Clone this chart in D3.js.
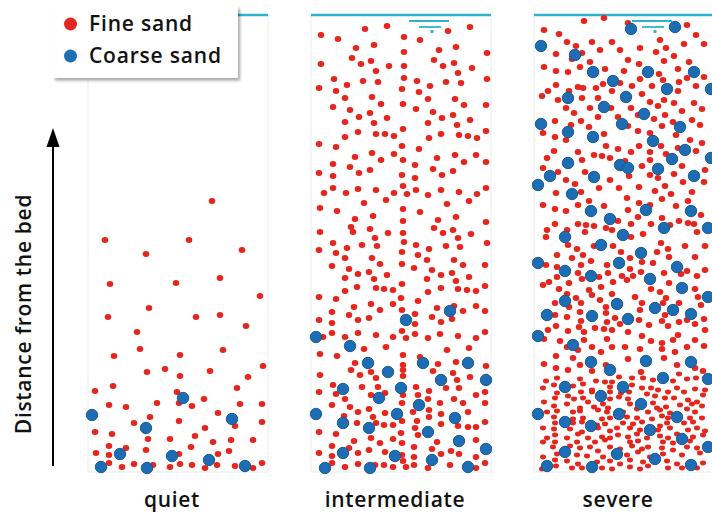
<!DOCTYPE html>
<html><head><meta charset="utf-8">
<script src="https://cdn.jsdelivr.net/npm/d3@7"></script>
<style>body{margin:0;background:#fff}svg{display:block}</style>
</head><body><svg id="c" width="712" height="514"></svg>
<script>
// ---- data: [lateral position in column, height above bed] ----
const categories = ["quiet", "intermediate", "severe"];
const legendLabels = ["Fine sand", "Coarse sand"];
const axisLabel = "Distance from the bed";

const quietFine = [[124,271],[17,232],[101,232],[154,222],[58,218],[22,188],[88,189],[132,194],[172,176],[61,164],[20,155],[108,155],[132,157],[158,146],[49,140],[52,123],[26,116],[92,117],[135,122],[175,106],[59,100],[77,103],[92,96],[122,101],[160,95],[7,81],[25,86],[89,80],[149,84],[21,67],[38,65],[69,69],[91,69],[104,66],[116,73],[152,68],[174,68],[62,55],[130,59],[46,49],[91,51],[117,44],[147,46],[174,50],[7,40],[24,38],[60,33],[82,33],[107,36],[125,30],[143,32],[165,32],[21,26],[38,24],[58,22],[103,25],[141,21],[8,19],[21,17],[91,18],[130,18],[21,9],[46,8],[65,7],[92,8],[104,7],[34,5],[82,5],[117,4],[129,7],[147,6],[165,4],[174,9]];
const quietCoarse = [[95,74],[4,57],[144,53],[58,44],[32,18],[84,16],[121,12],[13,5],[59,4],[157,6]];

const intermediateFine = [[76,446],[54,443],[159,445],[137,441],[10,437],[27,433],[93,435],[109,432],[63,427],[45,424],[145,425],[128,422],[93,420],[176,419],[41,414],[60,411],[123,412],[143,409],[10,408],[50,408],[78,406],[93,406],[132,406],[161,404],[65,401],[147,399],[23,393],[93,394],[176,393],[52,391],[67,390],[106,391],[135,390],[150,389],[36,387],[119,386],[8,384],[25,381],[91,383],[108,380],[34,374],[61,375],[117,373],[144,373],[70,368],[92,368],[22,365],[153,367],[175,367],[105,363],[39,362],[59,359],[122,360],[48,355],[76,354],[131,354],[142,357],[159,352],[34,350],[63,349],[117,349],[146,347],[92,343],[175,341],[47,340],[65,338],[74,338],[83,336],[130,338],[34,335],[148,337],[157,336],[166,334],[118,334],[8,328],[25,325],[91,326],[108,323],[61,319],[83,318],[44,315],[126,314],[144,317],[165,317],[70,312],[92,312],[153,310],[175,310],[22,308],[39,305],[104,307],[122,303],[59,302],[142,301],[48,299],[8,299],[22,296],[91,297],[131,297],[104,294],[22,284],[47,283],[92,286],[13,279],[35,279],[65,282],[83,279],[96,278],[105,282],[130,282],[148,280],[117,277],[166,278],[175,284],[75,272],[53,269],[136,268],[158,271],[9,264],[26,261],[92,263],[109,260],[62,256],[44,253],[127,252],[145,255],[92,251],[175,250],[40,245],[123,244],[59,243],[142,242],[9,240],[42,240],[77,239],[92,239],[132,239],[160,238],[64,234],[147,234],[22,229],[93,230],[176,229],[51,227],
[66,226],[105,227],[135,226],[149,225],[36,224],[8,222],[118,223],[25,219],[91,220],[107,217],[34,214],[61,214],[116,212],[143,212],[69,208],[91,208],[21,206],[152,207],[174,207],[103,204],[38,203],[121,202],[58,200],[47,198],[76,197],[130,197],[141,199],[158,195],[34,194],[63,193],[116,193],[145,191],[91,188],[174,186],[46,185],[65,184],[73,183],[82,182],[130,184],[34,181],[147,183],[156,182],[165,181],[117,180],[8,175],[25,173],[90,174],[107,171],[60,168],[82,168],[43,165],[126,164],[143,166],[165,166],[69,162],[91,162],[21,160],[152,161],[174,161],[38,157],[104,158],[58,154],[121,155],[8,152],[47,152],[141,153],[21,149],[104,148],[130,150],[91,141],[174,140],[21,139],[47,139],[65,137],[82,135],[104,138],[129,138],[147,136],[12,135],[34,135],[95,134],[117,134],[165,134],[75,125],[53,123],[136,122],[158,124],[9,118],[26,116],[92,117],[109,115],[44,109],[92,107],[127,108],[145,110],[175,106],[40,102],[60,100],[92,102],[122,101],[9,97],[49,97],[92,96],[142,99],[159,95],[65,94],[146,92],[22,87],[51,85],[67,85],[105,85],[118,81],[135,84],[148,84],[8,80],[25,78],[60,77],[74,79],[92,77],[107,77],[174,80],[165,77],[34,73],[117,73],[143,73],[152,69],[21,67],[39,65],[58,63],[91,69],[129,69],[174,69],[47,60],[74,59],[102,60],[118,62],[130,58],[157,60],[33,56],[62,55],[91,51],[106,51],[118,55],[174,50],[46,49],[65,49],[73,47],[82,47],[130,48],[147,46],[157,45],[165,45],[104,44],[8,40],[25,38],[90,39],[107,37],[60,34],[82,33],[43,31],[126,30],[69,29],[91,29],[165,32],[21,26],[103,25],[140,21],[38,24],[121,23],[58,22],[8,19],[47,19],[74,20],[130,18],[148,18],[21,16],[91,17],[103,15],[165,15],[174,9],[21,9],[34,5],[47,8],[64,7],[73,7],[82,5],[92,11],[103,7],[117,4],[139,7],[165,4],[95,5]];
const intermediateCoarse = [[139,161],[95,152],[5,135],[39,126],[57,109],[112,109],[157,109],[77,100],[130,92],[175,92],[32,83],[90,84],[68,74],[108,67],[5,58],[86,58],[144,54],[32,49],[58,44],[117,40],[148,31],[175,23],[32,19],[84,16],[121,12],[14,4],[59,4],[157,5]];

const severeFine = [[50,451],[70,454],[94,449],[153,447],[10,442],[25,438],[162,437],[126,432],[33,430],[58,430],[78,430],[150,428],[170,428],[42,426],[106,424],[132,424],[66,422],[86,422],[122,420],[22,418],[48,419],[38,413],[140,416],[94,412],[130,411],[56,410],[155,410],[105,408],[10,405],[46,405],[22,401],[34,400],[71,403],[90,401],[144,403],[125,398],[170,395],[106,393],[129,392],[145,390],[153,394],[98,386],[22,387],[44,385],[49,384],[62,384],[69,388],[86,389],[118,386],[162,386],[14,381],[8,376],[35,381],[78,381],[108,378],[144,381],[24,372],[48,374],[64,374],[116,370],[130,372],[160,369],[32,364],[56,364],[77,364],[97,364],[124,366],[140,369],[168,363],[40,359],[104,357],[131,357],[148,361],[64,355],[84,355],[21,351],[47,351],[120,353],[158,352],[139,350],[37,347],[55,345],[94,346],[128,346],[166,347],
[104,341],[116,339],[9,339],[70,338],[142,337],[21,335],[32,332],[156,332],[168,329],[72,326],[105,326],[127,326],[84,323],[144,324],[20,321],[44,320],[97,320],[116,320],[162,321],[60,317],[68,316],[132,318],[13,314],[76,314],[48,312],[116,312],[91,311],[9,304],[108,306],[148,306],[24,300],[51,300],[140,298],[171,302],[116,297],[95,296],[124,294],[32,292],[76,292],[149,290],[170,290],[41,288],[105,285],[131,286],[65,284],[85,284],[22,279],[47,280],[121,281],[137,278],[158,280],[93,274],[128,273],[55,271],[154,271],[105,269],[9,267],[44,267],[70,266],[116,267],[142,266],[21,263],[32,261],[94,262],[167,257],[104,255],[128,254],[84,251],[145,251],[154,249],[160,248],[21,248],[44,248],[52,247],[97,248],[117,248],[136,247],[60,246],[72,244],[78,242],[13,242],[33,242],[51,240],[109,238],[163,240],[12,235],[97,235],
[34,227],[43,223],[60,226],[79,226],[127,229],[134,223],[151,226],[171,226],[87,220],[23,217],[49,217],[123,220],[38,214],[96,214],[135,215],[161,215],[57,211],[108,210],[119,209],[47,207],[73,207],[12,207],[23,205],[96,203],[153,201],[171,202],[44,199],[74,199],[107,200],[130,199],[65,195],[88,196],[99,196],[147,198],[163,196],[23,195],[48,193],[15,190],[35,189],[79,190],[93,192],[9,187],[135,189],[25,183],[67,185],[55,182],[117,183],[161,183],[33,178],[78,178],[126,180],[58,177],[101,175],[42,174],[132,174],[164,175],[66,172],[21,169],[47,169],[108,169],[129,169],[145,169],[35,165],[72,165],[167,167],[106,162],[46,160],[72,159],[21,157],[33,155],[131,157],[170,153],[81,154],[105,152],[128,151],[73,150],[47,151],[145,150],[153,152],[161,148],[22,146],[45,145],[115,147],[134,146],[86,148],[61,144],[70,143],[78,142],[14,142],[34,141],[50,140],[94,140],[171,142],[108,136],[144,137],[10,133],[26,131],[50,132],[73,133],[117,131],[139,132],[161,132],[128,129],[33,125],[58,125],[78,125],[91,125],[153,125],[170,126],[106,123],[128,123],[67,120],[141,120],[44,122],
[22,116],[39,114],[94,113],[130,114],[10,108],[46,107],[72,107],[143,107],[22,104],[34,102],[107,100],[169,101],[161,104],[58,101],[145,98],
[12,91],[23,94],[46,93],[62,91],[71,90],[78,90],[85,95],[98,94],[109,94],[119,92],[139,91],[153,93],[162,94],
[9,84],[20,87],[39,86],[49,88],[58,82],[76,85],[98,87],[108,84],[117,84],[124,82],[143,84],[161,83],[171,82],
[23,79],[47,80],[58,80],[76,80],[87,79],[95,80],[113,78],[134,80],[150,80],
[10,70],[21,74],[34,76],[40,73],[49,74],[54,70],[76,73],[85,75],[94,73],[121,76],[131,74],[140,74],[154,72],[163,70],[169,77],
[20,66],[33,68],[46,64],[60,65],[69,68],[74,64],[96,68],[119,69],[123,64],[132,65],[146,67],[158,68],[168,66],
[13,60],[23,61],[39,60],[46,61],[64,62],[73,60],[89,60],[103,63],[114,60],[126,62],[136,59],[153,63],[161,60],
[20,55],[39,53],[49,54],[68,53],[76,54],[93,55],[103,54],[118,53],[128,56],[134,54],[156,54],[168,54],
[21,49],[39,49],[48,50],[63,47],[71,48],[89,49],[99,48],[108,50],[126,46],[133,49],[150,49],[159,50],
[9,44],[20,43],[36,43],[48,40],[64,44],[76,41],[83,44],[96,44],[106,42],[124,42],[136,44],[154,42],[163,44],[171,41],
[21,37],[33,34],[44,38],[54,34],[68,35],[76,34],[84,37],[94,35],[103,38],[113,34],[126,36],[134,34],[143,38],[159,35],[169,37],
[9,30],[13,34],[21,30],[43,30],[61,30],[71,32],[96,30],[104,31],[129,30],[139,29],[156,31],
[19,25],[36,26],[46,24],[56,25],[64,21],[76,25],[86,23],[98,26],[108,23],[114,25],[128,24],[139,22],[153,25],[163,24],
[9,15],[23,18],[43,17],[53,16],[69,15],[93,17],[104,20],[116,15],[129,18],[148,17],[166,19],
[21,12],[33,11],[44,8],[63,10],[76,11],[86,8],[96,12],[109,10],[133,11],[143,8],[169,9],
[8,3],[22,6],[38,4],[48,4],[68,4],[78,3],[96,5],[106,3],[114,6],[134,4],[148,4],[163,4]];
const severeCoarse = [[97,443],[141,445],[7,426],[41,417],[59,400],[114,400],[160,400],[79,391],[133,383],[177,383],[34,374],[92,375],[70,365],[110,358],[7,348],[88,348],[146,345],
[34,340],[59,335],[119,331],[151,322],[138,313],[177,314],[34,309],[86,307],[94,304],[124,303],[16,296],[60,295],[160,296],[4,287],[38,278],[57,261],[112,262],[157,261],[76,253],[130,244],[174,244],[31,235],[89,237],
[67,227],[107,219],[4,209],[85,209],[143,205],[31,201],[57,196],[116,193],[148,184],[174,175],[31,171],[83,168],[121,164],[139,162],[157,158],[13,157],[58,156],[94,153],[4,136],[39,127],
[57,110],[112,111],[157,110],[76,102],[129,94],[174,93],[31,85],[89,85],[67,76],[107,68],[4,58],[85,58],[143,55],[31,50],[57,46],[116,42],[148,33],[174,25],[31,20],[83,18],[121,13],[13,6],[58,5],[157,7]];

const fineByCat = [quietFine, intermediateFine, severeFine];
const coarseByCat = [quietCoarse, intermediateCoarse, severeCoarse];

// ---- layout ----
const svg = d3.select("#c");
const FONT = "'Open Sans', 'DejaVu Sans', sans-serif";
const colW = 180, bedY = 472, surfY = 15;
const panelX = d3.scalePoint().domain(categories).range([88, 534]);
const y = d3.scaleLinear().domain([0, 457]).range([bedY, surfY]);
const RED = "#e5251f", BLUE = "#1f6db3", WATER = "#2db3cf";

const defs = svg.append("defs");
const sh = defs.append("filter").attr("id","shadow").attr("x","-10%").attr("y","-10%").attr("width","130%").attr("height","140%");
sh.append("feDropShadow").attr("dx",2).attr("dy",2.5).attr("stdDeviation",1.8).attr("flood-color","#000").attr("flood-opacity",0.35);
const soft = defs.append("filter").attr("id","soft");
soft.append("feGaussianBlur").attr("stdDeviation",0.35);

categories.forEach((cat, i) => {
  const x0 = panelX(cat);
  const x = d3.scaleLinear().domain([0, colW]).range([x0, x0 + colW]);
  const dense = d => i === 2 && d[1] < 100;
  const g = svg.append("g");
  g.append("rect").attr("x", x(0)).attr("y", surfY).attr("width", colW).attr("height", bedY - surfY)
    .attr("fill", "none").attr("stroke", "#eeeeee").attr("stroke-width", 1.2);
  g.append("line").attr("x1", x(0)).attr("x2", x(colW)).attr("y1", y(457)).attr("y2", y(457))
    .attr("stroke", WATER).attr("stroke-width", 2.5);
  // water surface symbol
  g.append("line").attr("x1", x(98)).attr("x2", x(138)).attr("y1", y(451)).attr("y2", y(451)).attr("stroke", WATER).attr("stroke-width", 1.8);
  g.append("line").attr("x1", x(108)).attr("x2", x(130)).attr("y1", y(445)).attr("y2", y(445)).attr("stroke", WATER).attr("stroke-width", 1.8);
  g.append("rect").attr("x", x(119.5)).attr("y", y(442)).attr("width", 3).attr("height", 3).attr("fill", WATER);

  const pts = g.append("g").attr("filter","url(#soft)");
  pts.selectAll("ellipse.fine").data(fineByCat[i]).join("ellipse").attr("class","fine")
    .attr("cx", d => x(d[0])).attr("cy", d => y(d[1]))
    .attr("rx", d => dense(d) ? 3.0 : 3.3).attr("ry", d => dense(d) ? 2.4 : 3.0)
    .attr("fill", RED);
  pts.selectAll("circle.coarse").data(coarseByCat[i]).join("circle").attr("class","coarse")
    .attr("cx", d => x(d[0])).attr("cy", d => y(d[1])).attr("r", 5.7)
    .attr("fill", BLUE).attr("stroke", "#1a5a96").attr("stroke-width", 1);

  svg.append("text").attr("x", x(colW / 2) - 6).attr("y", 507)
    .attr("text-anchor", "middle").attr("font-family", FONT).attr("font-weight", 600)
    .attr("font-size", 21).attr("letter-spacing", 0.7).attr("fill", "#111").text(cat);
});

// axis arrow
svg.append("line").attr("x1", 53).attr("x2", 53).attr("y1", 466).attr("y2", 142)
  .attr("stroke", "#000").attr("stroke-width", 2);
svg.append("path").attr("d", "M53,128 L46.5,147 L59.5,147 Z").attr("fill", "#000");
svg.append("text").attr("transform", "translate(31,314) rotate(-90)")
  .attr("text-anchor", "middle").attr("font-family", FONT).attr("font-weight", 600)
  .attr("font-size", 21).attr("letter-spacing", 0.7).attr("fill", "#111").text(axisLabel);

// legend
const lg = svg.append("g");
lg.append("rect").attr("x", 53).attr("y", 6).attr("width", 185).attr("height", 72)
  .attr("fill", "#fff").attr("filter", "url(#shadow)");
[RED, BLUE].forEach((c, k) => {
  lg.append("circle").attr("cx", 70.5).attr("cy", 24 + k * 32).attr("r", 6.5).attr("fill", c);
  lg.append("text").attr("x", 89).attr("y", 31 + k * 32).attr("font-family", FONT).attr("font-weight", 600)
    .attr("font-size", 21).attr("letter-spacing", 0.8).attr("fill", "#111").text(legendLabels[k]);
});
</script></body></html>
